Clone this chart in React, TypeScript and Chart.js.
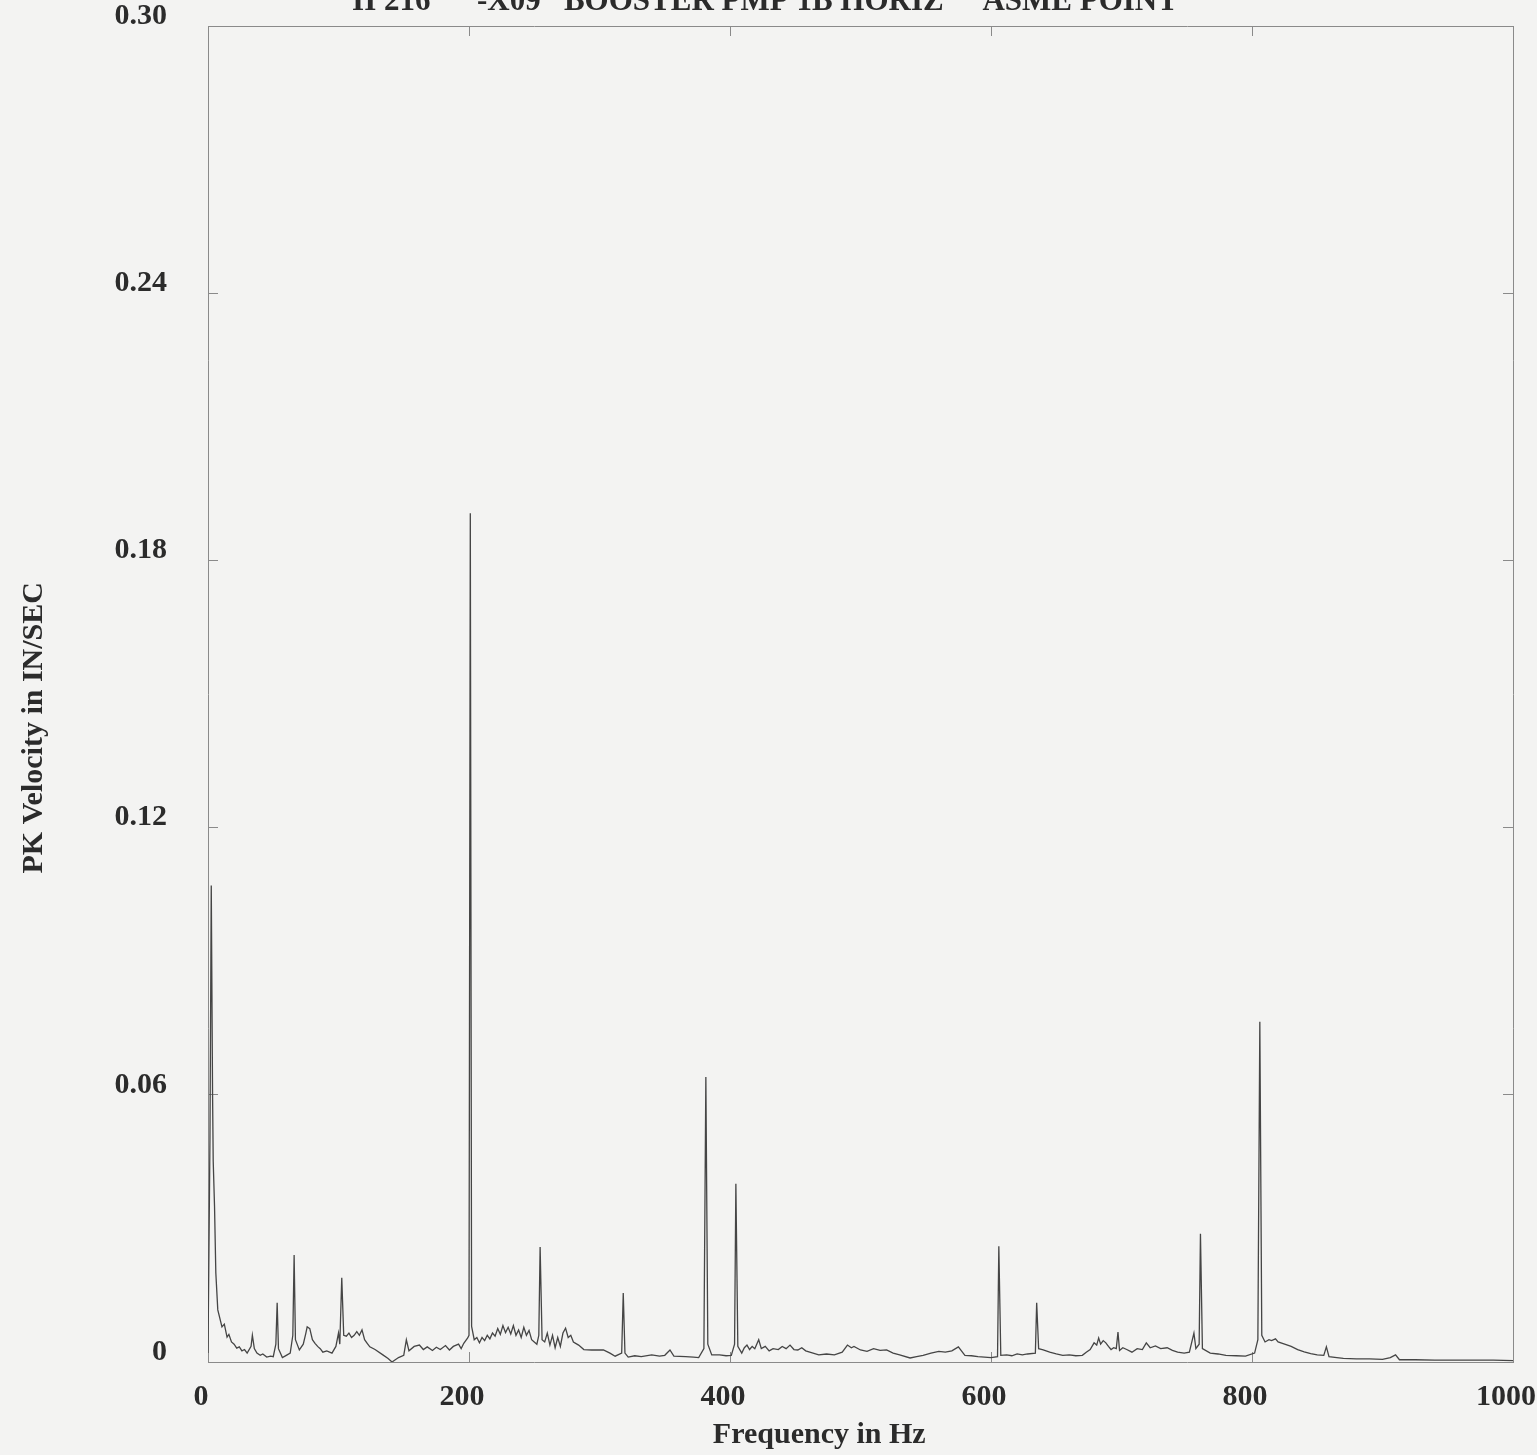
import React, { useEffect, useRef } from "react";
import { Chart, registerables } from "chart.js";

Chart.register(...registerables);

const CHART_TITLE = "II 216      -X09   BOOSTER PMP 1B HORIZ     ASME POINT";
const X_TITLE = "Frequency in Hz";
const Y_TITLE = "PK Velocity in IN/SEC";

const X_MIN = 0;
const X_MAX = 1000;
const X_STEP = 200;
const Y_MIN = 0;
const Y_MAX = 0.3;
const Y_STEP = 0.06;

const FREQ_HZ = [
  // 0 - 50 Hz
  0, 1.5, 2.5, 3.5, 4, 5, 6, 7.5, 10.7, 12.5,
  14.6, 16, 18, 20, 22, 24, 26, 28, 30, 33,
  34, 35.5, 37.5, 40, 42, 45, 48, 50,
  // 52 - 150 Hz
  52, 53, 54, 57, 60, 63, 65, 66, 67, 70,
  73, 75, 76, 78, 80, 82, 84, 86, 88, 91,
  95, 98, 100, 101, 102.5, 104, 106, 108, 110, 112,
  114, 116, 118, 120, 122, 124, 128, 134, 138, 141,
  146, 150,
  // 152 - 201 Hz
  152, 154, 158, 162, 165, 168, 172, 175, 178, 182,
  185, 188, 192, 194, 196, 199, 200, 201,
  // 202 - 294 Hz
  202, 204, 206, 208, 210, 212, 214, 216, 218, 220,
  222, 224, 226, 228, 230, 232, 234, 236, 238, 240,
  242, 244, 246, 248, 250, 252, 253.5, 254.5, 256, 258,
  260, 262, 264, 266, 268, 270, 272, 274, 276, 278,
  280, 284, 288, 294,
  // 303 - 397 Hz
  303, 308, 312, 317, 318.2, 319.5, 322, 327, 332, 340,
  346, 350, 354, 357, 366, 372, 376, 380, 381.5, 383,
  386, 392, 397,
  // 401 - 458 Hz
  401, 403.5, 404.5, 406, 409, 411, 413, 415, 417, 419,
  422, 424, 427, 430, 433, 437, 440, 443, 446, 449,
  452, 455, 458,
  // 468 - 665 Hz
  468, 474, 480, 486, 490, 493, 495, 500, 505, 510,
  515, 520, 525, 530, 538, 543, 548, 554, 560, 565,
  570, 575, 580, 585, 590, 595, 600, 605, 606, 607.5,
  612, 616, 620, 624, 628, 634, 635, 636.5, 640, 645,
  650, 655, 660, 665,
  // 670 - 762 Hz
  670, 673, 676, 679, 681, 682.5, 684, 686, 688, 690,
  692, 694, 696, 697.3, 698.5, 701, 704, 708, 712, 716,
  719, 722, 726, 730, 735, 739, 743, 748, 752, 755.5,
  757, 759.5, 760.5, 762,
  // 768 - 1000 Hz
  768, 774, 780, 788, 795, 802, 804.5, 806, 807.5, 810,
  813, 815, 818, 820, 825, 830, 835, 840, 845, 850,
  855, 857, 859, 865, 870, 880, 890, 900, 906, 910,
  913, 925, 940, 955, 970, 985, 1000,
];

const PK_VELOCITY = [
  // 0 - 50 Hz
  0.002, 0.05, 0.107, 0.06, 0.045, 0.035, 0.02, 0.0117, 0.0079, 0.0085,
  0.0056, 0.0062, 0.0045, 0.004, 0.0031, 0.0034, 0.0025, 0.0028, 0.002, 0.0035,
  0.006, 0.003, 0.002, 0.0015, 0.0018, 0.0011, 0.0013, 0.0012,
  // 52 - 150 Hz
  0.004, 0.0133, 0.003, 0.001, 0.0015, 0.002, 0.006, 0.024, 0.005, 0.0027,
  0.004, 0.0065, 0.0079, 0.0075, 0.005, 0.0042, 0.0035, 0.003, 0.0022, 0.0025,
  0.002, 0.0035, 0.0065, 0.004, 0.0189, 0.006, 0.0058, 0.0065, 0.0055, 0.006,
  0.0068, 0.006, 0.0072, 0.005, 0.0042, 0.0034, 0.0028, 0.0016, 0.0008, 0.0,
  0.001, 0.0015,
  // 152 - 201 Hz
  0.005, 0.0025, 0.0035, 0.0038, 0.0028, 0.0034, 0.0026, 0.0033, 0.0028, 0.0037,
  0.0027, 0.0035, 0.004, 0.003, 0.0042, 0.0054, 0.006, 0.1906,
  // 202 - 294 Hz
  0.008, 0.005, 0.0055, 0.0043, 0.0055, 0.0048, 0.006, 0.0052, 0.0065, 0.0058,
  0.0075, 0.0062, 0.0082, 0.0066, 0.0078, 0.0063, 0.0082, 0.006, 0.0072, 0.0055,
  0.0078, 0.006, 0.0071, 0.005, 0.0045, 0.004, 0.006, 0.0258, 0.005, 0.0045,
  0.0065, 0.0038, 0.006, 0.0032, 0.0055, 0.0035, 0.0065, 0.0076, 0.0055, 0.006,
  0.0045, 0.0038, 0.0028, 0.0027,
  // 303 - 397 Hz
  0.0027, 0.002, 0.0013, 0.002, 0.0155, 0.002, 0.0011, 0.0014, 0.0012, 0.0016,
  0.0013, 0.0015, 0.0027, 0.0013, 0.0012, 0.0011, 0.001, 0.003, 0.064, 0.004,
  0.0016, 0.0016, 0.0014,
  // 401 - 458 Hz
  0.0015, 0.004, 0.04, 0.0035, 0.002, 0.0032, 0.0038, 0.0028, 0.0035, 0.003,
  0.005, 0.003, 0.0035, 0.0025, 0.003, 0.0028, 0.0035, 0.003, 0.0038, 0.0028,
  0.0027, 0.0032, 0.0025,
  // 468 - 665 Hz
  0.0016, 0.0018, 0.0016, 0.0022, 0.0038, 0.0032, 0.0035, 0.0027, 0.0024, 0.003,
  0.0026, 0.0027, 0.002, 0.0016, 0.0009, 0.0012, 0.0015, 0.002, 0.0024, 0.0022,
  0.0025, 0.0034, 0.0015, 0.0014, 0.0012, 0.0011, 0.001, 0.0012, 0.026, 0.0015,
  0.0016, 0.0014, 0.0018, 0.0016, 0.0018, 0.002, 0.0133, 0.003, 0.0027, 0.0022,
  0.0018, 0.0015, 0.0016, 0.0014,
  // 670 - 762 Hz
  0.0015, 0.0022, 0.0028, 0.0043, 0.0038, 0.0054, 0.004, 0.0048, 0.0043, 0.0035,
  0.0028, 0.0032, 0.003, 0.0067, 0.0026, 0.0032, 0.0028, 0.0022, 0.003, 0.0028,
  0.0043, 0.0032, 0.0036, 0.003, 0.0032, 0.0026, 0.0022, 0.002, 0.0022, 0.0065,
  0.003, 0.004, 0.0288, 0.003,
  // 768 - 1000 Hz
  0.002, 0.0018, 0.0015, 0.0014, 0.0013, 0.002, 0.005, 0.0764, 0.006, 0.0045,
  0.005, 0.0048, 0.0052, 0.0045, 0.004, 0.0035, 0.0028, 0.0023, 0.0019, 0.0016,
  0.0015, 0.0034, 0.0012, 0.001, 0.0008, 0.0007, 0.0007, 0.0006, 0.001, 0.0016,
  0.0005, 0.0005, 0.0004, 0.0004, 0.0004, 0.0004, 0.0003,
];

const W = 1537;
const H = 1455;
const FONT_FAMILY = '"Liberation Serif", "Times New Roman", serif';
const TEXT_COLOR = "#2b2b2b";
const AXIS_COLOR = "#8a8a8a";
const BG = "#f3f3f2";

export default function App() {
  const ref = useRef<HTMLCanvasElement | null>(null);

  useEffect(() => {
    if (!ref.current) return;
    const data = FREQ_HZ.map((f, i) => ({ x: f, y: PK_VELOCITY[i] }));

    const bgPlugin = {
      id: "bg",
      beforeDraw(chart: any) {
        const c = chart.ctx;
        c.save();
        c.fillStyle = BG;
        c.fillRect(0, 0, chart.width, chart.height);
        c.restore();
      },
    };
    const titlePlugin = {
      id: "cutTitle",
      afterDraw(chart: any) {
        const c = chart.ctx;
        c.save();
        c.font = `bold 31px ${FONT_FAMILY}`;
        c.fillStyle = TEXT_COLOR;
        c.textAlign = "center";
        c.textBaseline = "alphabetic";
        c.fillText(CHART_TITLE, 765, 10);
        c.restore();
      },
    };

    const tickFont = { family: FONT_FAMILY, size: 30, weight: "bold" as const };
    const gridCommon = {
      drawOnChartArea: false,
      drawTicks: true,
      tickLength: -10,
      color: AXIS_COLOR,
      lineWidth: 1,
    };
    const borderCommon = { display: true, color: AXIS_COLOR, width: 1 };

    const chart = new Chart(ref.current, {
      type: "line",
      data: {
        datasets: [
          {
            data,
            borderColor: "#454545",
            borderWidth: 1.3,
            pointRadius: 0,
            tension: 0,
            fill: false,
          },
        ],
      },
      options: {
        responsive: false,
        animation: false,
        devicePixelRatio: 1,
        layout: { padding: 0 },
        plugins: {
          legend: { display: false },
          tooltip: { enabled: false },
          title: { display: false },
        },
        scales: {
          x: {
            type: "linear",
            position: "bottom",
            min: X_MIN,
            max: X_MAX,
            ticks: {
              stepSize: X_STEP,
              color: TEXT_COLOR,
              font: tickFont,
              padding: 27,
              labelOffset: -7,
              maxRotation: 0,
              autoSkip: false,
              callback: (v: any) => String(v),
            },
            grid: gridCommon,
            border: borderCommon,
            title: {
              display: true,
              text: X_TITLE + "\u00A0".repeat(11),
              color: TEXT_COLOR,
              font: tickFont,
              padding: { top: 0, bottom: 2 },
            },
            afterFit(scale: any) {
              scale.height = 93;
              scale.paddingLeft = 0;
              scale.paddingRight = 0;
            },
          },
          x2: {
            type: "linear",
            position: "top",
            min: X_MIN,
            max: X_MAX,
            ticks: { stepSize: X_STEP, display: false },
            grid: gridCommon,
            border: borderCommon,
            afterFit(scale: any) {
              scale.height = 26;
              scale.paddingLeft = 0;
              scale.paddingRight = 0;
            },
          },
          y: {
            type: "linear",
            position: "left",
            min: Y_MIN,
            max: Y_MAX,
            ticks: {
              stepSize: Y_STEP,
              color: TEXT_COLOR,
              font: tickFont,
              padding: 51,
              labelOffset: -10,
              callback: (v: any) => (Number(v) === 0 ? "0" : Number(v).toFixed(2)),
            },
            grid: gridCommon,
            border: borderCommon,
            title: {
              display: true,
              text: Y_TITLE + "\u00A0".repeat(9),
              color: TEXT_COLOR,
              font: tickFont,
              padding: { top: 16, bottom: 0 },
            },
            afterFit(scale: any) {
              scale.width = 208;
              scale.paddingTop = 0;
              scale.paddingBottom = 0;
            },
          },
          y2: {
            type: "linear",
            position: "right",
            min: Y_MIN,
            max: Y_MAX,
            ticks: { stepSize: Y_STEP, display: false },
            grid: gridCommon,
            border: borderCommon,
            afterFit(scale: any) {
              scale.width = 24;
              scale.paddingTop = 0;
              scale.paddingBottom = 0;
            },
          },
        },
      },
      plugins: [bgPlugin, titlePlugin],
    });
    return () => chart.destroy();
  }, []);

  return (
    <div style={{ position: "absolute", left: 0, top: 0, width: W, height: H, overflow: "hidden" }}>
      <canvas ref={ref} width={W} height={H} style={{ display: "block", width: W, height: H }} />
    </div>
  );
}
